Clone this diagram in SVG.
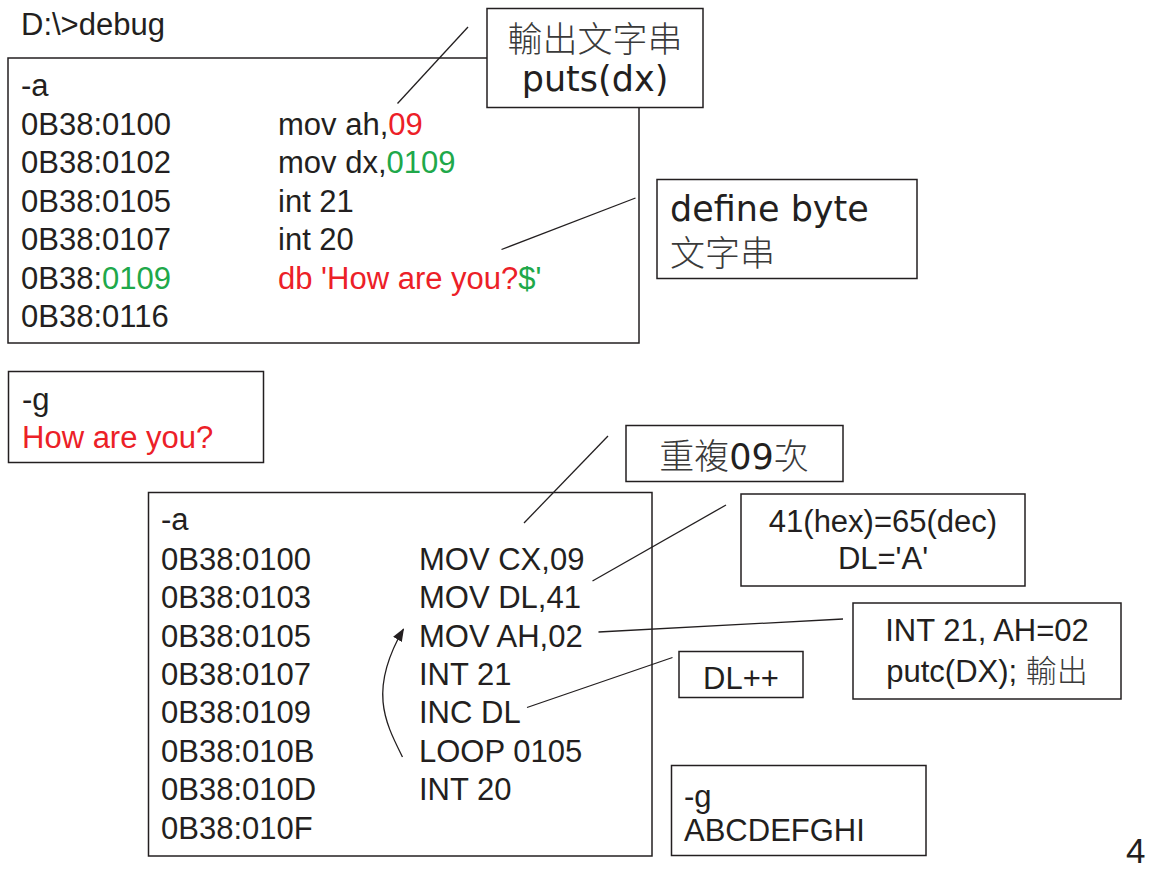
<svg xmlns="http://www.w3.org/2000/svg" width="1155" height="870" viewBox="0 0 1155 870">
  <defs>
    <style>
      .box { fill: #ffffff; stroke: #231f20; stroke-width: 1.5; }
      .lead { fill: none; stroke: #231f20; stroke-width: 1.3; }
      .code { font-family: "Liberation Sans", Arial, sans-serif; font-size: 31px; fill: #231f20; }
      .note { font-family: "DejaVu Sans", Verdana, sans-serif; font-size: 35px; font-weight: normal; fill: #231f20; }
      .cjk { font-family: "Noto Sans CJK TC", "Noto Sans CJK SC", sans-serif; font-size: 35px; font-weight: 300; fill: #3a3a3a; }
      .red { fill: #ec2027; }
      .green { fill: #20a84a; }
      .mid { text-anchor: middle; }
    </style>
    <marker id="arrowHead" markerWidth="14" markerHeight="10" refX="12" refY="5" orient="auto" markerUnits="userSpaceOnUse">
      <path d="M0,0 L13,5 L0,10 Z" fill="#231f20"/>
    </marker>
  </defs>

  <rect width="1155" height="870" fill="#ffffff"/>

  <text class="code" x="21" y="35">D:\&gt;debug</text>

  <!-- first assembly listing -->
  <g id="listing1">
    <rect class="box" x="8" y="58" width="631" height="285"/>
    <text class="code" x="21" y="96">-a</text>
    <text class="code" x="21" y="135">0B38:0100</text>
    <text class="code" x="278" y="135">mov ah,<tspan class="red">09</tspan></text>
    <text class="code" x="21" y="173">0B38:0102</text>
    <text class="code" x="278" y="173">mov dx,<tspan class="green">0109</tspan></text>
    <text class="code" x="21" y="212">0B38:0105</text>
    <text class="code" x="278" y="212">int 21</text>
    <text class="code" x="21" y="250">0B38:0107</text>
    <text class="code" x="278" y="250">int 20</text>
    <text class="code" x="21" y="289">0B38:<tspan class="green">0109</tspan></text>
    <text class="code red" x="278" y="289">db 'How are you?<tspan class="green">$'</tspan></text>
    <text class="code" x="21" y="327">0B38:0116</text>
  </g>

  <g id="output1">
    <rect class="box" x="8.5" y="371.5" width="255" height="91"/>
    <text class="code" x="22" y="410">-g</text>
    <text class="code red" x="22" y="447.5">How are you?</text>
  </g>

  <!-- second assembly listing -->
  <g id="listing2">
    <rect class="box" x="148.5" y="492.5" width="503.5" height="363.5"/>
    <text class="code" x="161" y="530">-a</text>
    <text class="code" x="161" y="569.5">0B38:0100</text>
    <text class="code" x="419" y="569.5">MOV CX,09</text>
    <text class="code" x="161" y="608">0B38:0103</text>
    <text class="code" x="419" y="608">MOV DL,41</text>
    <text class="code" x="161" y="646.5">0B38:0105</text>
    <text class="code" x="419" y="646.5">MOV AH,02</text>
    <text class="code" x="161" y="685">0B38:0107</text>
    <text class="code" x="419" y="685">INT 21</text>
    <text class="code" x="161" y="723">0B38:0109</text>
    <text class="code" x="419" y="723">INC DL</text>
    <text class="code" x="161" y="761.5">0B38:010B</text>
    <text class="code" x="419" y="761.5">LOOP 0105</text>
    <text class="code" x="161" y="800">0B38:010D</text>
    <text class="code" x="419" y="800">INT 20</text>
    <text class="code" x="161" y="838.5">0B38:010F</text>
  </g>

  <!-- connectors: callout leaders and the loop-back arrow -->
  <g id="connectors">
    <line class="lead" x1="468" y1="27" x2="397.5" y2="103.5"/>
    <line class="lead" x1="635.5" y1="198" x2="501.5" y2="249.5"/>
    <line class="lead" x1="608" y1="436" x2="524" y2="523"/>
    <line class="lead" x1="726" y1="505" x2="592.5" y2="581"/>
    <line class="lead" x1="843" y1="619" x2="598.5" y2="632"/>
    <line class="lead" x1="672.5" y1="657.5" x2="527" y2="707.5"/>
    <path class="lead" d="M402.5,757 C385,722 368,690 403.5,629" marker-end="url(#arrowHead)"/>
  </g>

  <g id="note-puts">
    <rect class="box" x="487" y="8.5" width="216" height="99"/>
    <text class="cjk mid" x="595" y="52">輸出文字串</text>
    <text class="note mid" x="595" y="91">puts(dx)</text>
  </g>

  <g id="note-db">
    <rect class="box" x="657" y="179.5" width="260" height="99"/>
    <text class="note" x="670" y="221">define byte</text>
    <text class="cjk" x="670" y="266">文字串</text>
  </g>

  <g id="note-repeat">
    <rect class="box" x="626" y="425.5" width="217" height="56"/>
    <text class="cjk mid" x="734" y="469">重複<tspan class="note">09</tspan>次</text>
  </g>

  <g id="note-hex">
    <rect class="box" x="741" y="494" width="284" height="92"/>
    <text class="code mid" x="883" y="531.5">41(hex)=65(dec)</text>
    <text class="code mid" x="883" y="568.5">DL='A'</text>
  </g>

  <g id="note-int21">
    <rect class="box" x="853" y="603" width="268" height="96"/>
    <text class="code mid" x="987" y="641">INT 21, AH=02</text>
    <text class="code mid" x="987" y="681.5">putc(DX); <tspan class="cjk" style="font-size:31px">輸出</tspan></text>
  </g>

  <g id="note-inc">
    <rect class="box" x="679" y="651.5" width="124" height="46"/>
    <text class="code mid" x="741" y="688.5">DL++</text>
  </g>

  <g id="output2">
    <rect class="box" x="671.5" y="765.5" width="254.5" height="90"/>
    <text class="code" x="684" y="806.5">-g</text>
    <text class="code" x="684" y="841">ABCDEFGHI</text>
  </g>

  <text class="code" x="1126" y="863" style="font-size:35px">4</text>
</svg>
